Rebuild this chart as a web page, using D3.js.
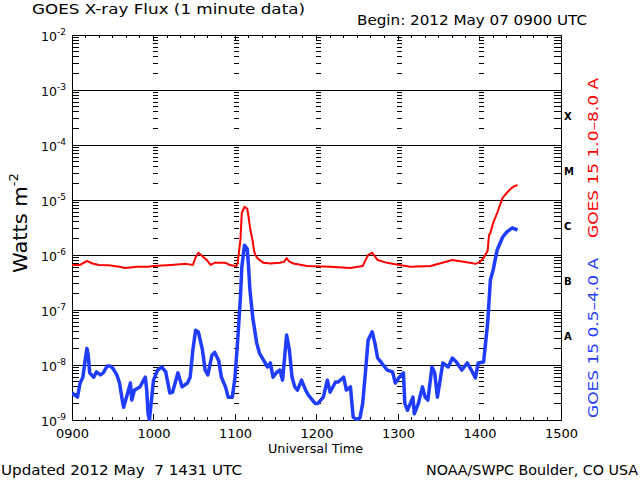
<!DOCTYPE html>
<html lang="en">
<head>
<meta charset="UTF-8">
<title>GOES X-ray Flux (1 minute data)</title>
<script src="https://d3js.org/d3.v7.min.js"></script>
<style>
    body { margin: 0; background: #fff; }
    text { font-family: "DejaVu Sans", Arial, sans-serif; fill: #000; }
    .pre { white-space: pre; }
</style>
</head>
<body>
<div id="chart"></div>
<script>
    // GOES 15 long channel (1.0-8.0 A), W m^-2
    const longChannel = [
        ["0900", 6.6e-7], ["0906", 6.6e-7], ["0911", 7.8e-7], ["0915", 7.0e-7], ["0920", 6.6e-7],
        ["0927", 6.5e-7], ["0935", 6.1e-7], ["0939", 5.8e-7], ["0948", 6.1e-7], ["0956", 6.1e-7],
        ["1000", 6.3e-7], ["1013", 6.6e-7], ["1024", 6.9e-7], ["1029", 6.6e-7], ["1031", 9.0e-7],
        ["1033", 1.1e-6], ["1036", 9.5e-7], ["1039", 8.2e-7], ["1042", 6.6e-7], ["1045", 7.2e-7],
        ["1053", 7.2e-7], ["1056", 6.6e-7], ["1101", 6.3e-7], ["1102", 7.2e-7], ["1104", 1.9e-6],
        ["1105", 5.8e-6], ["1107", 7.5e-6], ["1109", 7.0e-6], ["1110", 4.9e-6], ["1111", 3.2e-6],
        ["1113", 1.8e-6], ["1114", 1.2e-6], ["1115", 1.0e-6], ["1117", 8.5e-7], ["1121", 7.2e-7],
        ["1126", 7.0e-7], ["1133", 7.2e-7], ["1136", 7.5e-7], ["1138", 8.8e-7], ["1140", 7.6e-7],
        ["1143", 7.0e-7], ["1153", 6.3e-7], ["1210", 6.1e-7], ["1225", 5.8e-7], ["1234", 6.3e-7],
        ["1236", 8.0e-7], ["1238", 1.0e-6], ["1241", 1.1e-6], ["1245", 8.1e-7], ["1252", 7.2e-7],
        ["1301", 6.6e-7], ["1309", 6.1e-7], ["1324", 6.3e-7], ["1340", 8.1e-7], ["1353", 7.2e-7],
        ["1357", 6.9e-7], ["1400", 7.4e-7], ["1403", 8.8e-7], ["1406", 1.2e-6], ["1407", 2.3e-6],
        ["1408", 2.5e-6], ["1410", 3.8e-6], ["1413", 5.8e-6], ["1417", 1.09e-5], ["1422", 1.52e-5],
        ["1425", 1.75e-5], ["1428", 1.87e-5]
    ];

    // GOES 15 short channel (0.5-4.0 A), W m^-2
    const shortChannel = [
        ["0900", 3.1e-9], ["0904", 2.6e-9], ["0906", 4.7e-9], ["0908", 6.0e-9], ["0910", 1.4e-8],
        ["0911", 2.0e-8], ["0912", 1.5e-8], ["0913", 7.2e-9], ["0916", 6.0e-9], ["0918", 7.5e-9],
        ["0921", 6.6e-9], ["0923", 7.2e-9], ["0926", 9.6e-9], ["0928", 9.6e-9], ["0930", 8.8e-9],
        ["0933", 6.6e-9], ["0935", 4.7e-9], ["0937", 2.3e-9], ["0938", 1.7e-9], ["0941", 3.1e-9],
        ["0943", 4.7e-9], ["0944", 2.3e-9], ["0946", 3.5e-9], ["0950", 4.0e-9], ["0954", 6.0e-9],
        ["0955", 3.5e-9], ["0956", 1.3e-9], ["0957", 1.0e-9], ["1000", 5.3e-9], ["1003", 8.1e-9],
        ["1006", 9.2e-9], ["1009", 7.5e-9], ["1012", 3.1e-9], ["1014", 3.2e-9], ["1018", 7.2e-9],
        ["1021", 4.0e-9], ["1025", 4.7e-9], ["1027", 6.0e-9], ["1029", 1.9e-8], ["1031", 4.3e-8],
        ["1033", 4.0e-8], ["1036", 1.9e-8], ["1038", 8.1e-9], ["1040", 6.6e-9], ["1043", 1.5e-8],
        ["1045", 1.7e-8], ["1048", 1.2e-8], ["1050", 6.0e-9], ["1053", 4.0e-9], ["1055", 2.6e-9],
        ["1058", 2.6e-9], ["1100", 6.0e-9], ["1102", 2.85e-8], ["1104", 1.7e-7], ["1105", 6.0e-7],
        ["1107", 1.5e-6], ["1109", 1.3e-6], ["1110", 6.0e-7], ["1111", 2.3e-7], ["1113", 7.5e-8],
        ["1116", 2.5e-8], ["1118", 1.65e-8], ["1121", 1.23e-8], ["1124", 9.2e-9], ["1126", 1.09e-8],
        ["1128", 6.0e-9], ["1131", 7.5e-9], ["1133", 8.1e-9], ["1135", 5.3e-9], ["1138", 3.5e-8],
        ["1140", 1.9e-8], ["1142", 6.0e-9], ["1144", 4.0e-9], ["1146", 3.5e-9], ["1149", 5.3e-9],
        ["1152", 3.5e-9], ["1154", 2.85e-9], ["1157", 2.3e-9], ["1159", 2.0e-9], ["1201", 2.0e-9],
        ["1205", 2.6e-9], ["1208", 5.3e-9], ["1210", 3.2e-9], ["1214", 4.9e-9], ["1216", 4.9e-9],
        ["1220", 6.0e-9], ["1222", 3.5e-9], ["1225", 4.0e-9], ["1227", 1.13e-9], ["1230", 1.0e-9],
        ["1232", 1.09e-9], ["1234", 2.0e-9], ["1236", 7.2e-9], ["1238", 2.85e-8], ["1241", 4.0e-8],
        ["1243", 2.5e-8], ["1245", 1.34e-8], ["1248", 1.09e-8], ["1252", 8.1e-9], ["1256", 7.5e-9],
        ["1258", 4.7e-9], ["1301", 6.0e-9], ["1304", 7.2e-9], ["1305", 2.0e-9], ["1307", 1.5e-9],
        ["1311", 2.6e-9], ["1312", 1.3e-9], ["1315", 2.0e-9], ["1318", 4.0e-9], ["1320", 2.6e-9],
        ["1322", 2.3e-9], ["1325", 9.2e-9], ["1327", 7.2e-9], ["1329", 2.6e-9], ["1331", 5.3e-9],
        ["1333", 1.09e-8], ["1337", 9.2e-9], ["1340", 1.34e-8], ["1343", 1.13e-8], ["1347", 8.1e-9],
        ["1351", 1.09e-8], ["1354", 8.1e-9], ["1357", 5.8e-9], ["1359", 1.09e-8], ["1403", 1.13e-8],
        ["1406", 5.8e-8], ["1408", 3.5e-7], ["1410", 5.3e-7], ["1413", 1.23e-6], ["1417", 2.1e-6],
        ["1420", 2.6e-6], ["1424", 3.1e-6], ["1428", 2.85e-6]
    ];

    const decades = [-2, -3, -4, -5, -6, -7, -8, -9];
    const hourLabels = ["0900", "1000", "1100", "1200", "1300", "1400", "1500"];
    const flareClasses = [["X", -3.5], ["M", -4.5], ["C", -5.5], ["B", -6.5], ["A", -7.5]];

    const red = "#ff0000";
    const blue = "#1f3cff";

    const plot = { left: 72, right: 561, top: 35, bottom: 420 };

    const svg = d3.select("#chart").append("svg")
        .attr("width", 640)
        .attr("height", 480);

    const parseTime = d3.utcParse("%H%M");
    const x = d3.scaleUtc()
        .domain([parseTime(hourLabels[0]), parseTime(hourLabels[hourLabels.length - 1])])
        .range([plot.left, plot.right]);
    const y = d3.scaleLog()
        .domain([1e-9, 1e-2])
        .range([plot.bottom, plot.top]);

    // minor log positions 2..9 x 10^k
    const minorValues = [];
    for (let k = -9; k < -2; k++) {
        for (let m = 2; m <= 9; m++) minorValues.push(m * Math.pow(10, k));
    }

    const grid = svg.append("g").attr("stroke", "#000").attr("shape-rendering", "crispEdges");

    // horizontal decade lines
    grid.selectAll("line.decade")
        .data(decades.map(e => Math.pow(10, e)))
        .enter().append("line")
        .attr("class", "decade")
        .attr("x1", plot.left).attr("x2", plot.right)
        .attr("y1", d => y(d)).attr("y2", d => y(d))
        .attr("stroke-width", 1);

    // left and right axis minor ticks
    grid.selectAll("line.lminor")
        .data(minorValues)
        .enter().append("line")
        .attr("x1", plot.left).attr("x2", plot.left + 7)
        .attr("y1", d => y(d)).attr("y2", d => y(d));
    grid.selectAll("line.rminor")
        .data(minorValues)
        .enter().append("line")
        .attr("x1", plot.right - 7).attr("x2", plot.right)
        .attr("y1", d => y(d)).attr("y2", d => y(d));

    // hour lines drawn as short dashes at each log tick
    const innerHours = hourLabels.slice(1, -1).map(parseTime);
    innerHours.forEach(h => {
        grid.append("g").selectAll("line")
            .data(minorValues)
            .enter().append("line")
            .attr("x1", x(h) - 1).attr("x2", x(h) + 4)
            .attr("y1", d => y(d)).attr("y2", d => y(d));
        grid.append("line")
            .attr("x1", x(h)).attr("x2", x(h))
            .attr("y1", plot.top).attr("y2", plot.top + 6);
        grid.append("line")
            .attr("x1", x(h)).attr("x2", x(h))
            .attr("y1", plot.bottom - 6).attr("y2", plot.bottom);
    });

    // 10 minute ticks on top and bottom
    const tenMin = d3.utcMinute.every(10).range(x.domain()[0], x.domain()[1]);
    grid.selectAll("line.ttop")
        .data(tenMin)
        .enter().append("line")
        .attr("x1", d => x(d)).attr("x2", d => x(d))
        .attr("y1", plot.top).attr("y2", plot.top + 3);
    grid.selectAll("line.tbot")
        .data(tenMin)
        .enter().append("line")
        .attr("x1", d => x(d)).attr("x2", d => x(d))
        .attr("y1", plot.bottom - 3).attr("y2", plot.bottom);

    // frame
    grid.append("rect")
        .attr("x", plot.left).attr("y", plot.top)
        .attr("width", plot.right - plot.left)
        .attr("height", plot.bottom - plot.top)
        .attr("fill", "none");

    // x axis labels
    const xAxis = d3.axisBottom(x)
        .tickValues(hourLabels.map(parseTime))
        .tickFormat(d3.utcFormat("%H%M"))
        .tickSize(0)
        .tickPadding(0);
    const xg = svg.append("g")
        .attr("transform", `translate(0,${plot.bottom})`)
        .call(xAxis);
    xg.select(".domain").remove();
    xg.selectAll("text")
        .attr("dy", null)
        .attr("y", 18)
        .attr("font-size", 13)
        .attr("font-family", "DejaVu Sans, sans-serif")
        .attr("fill", "#000");

    // y axis labels 10^n
    const yAxis = d3.axisLeft(y)
        .tickValues(decades.map(e => Math.pow(10, e)))
        .tickFormat("")
        .tickSize(0)
        .tickPadding(0);
    const yg = svg.append("g")
        .attr("transform", `translate(${plot.left - 6},0)`)
        .call(yAxis);
    yg.select(".domain").remove();
    yg.selectAll(".tick text")
        .attr("dy", null)
        .attr("y", 5)
        .attr("font-size", 12.5)
        .attr("font-family", "DejaVu Sans, sans-serif")
        .attr("fill", "#000")
        .each(function(d) {
            const t = d3.select(this);
            t.append("tspan").text("10");
            t.append("tspan")
                .attr("dy", -6)
                .attr("font-size", 9)
                .text("-" + Math.round(-Math.log10(d)));
        });

    // flux curves
    const line = d3.line()
        .x(d => x(parseTime(d[0])))
        .y(d => y(d[1]));

    svg.append("defs").append("clipPath").attr("id", "clip")
        .append("rect")
        .attr("x", plot.left).attr("y", plot.top)
        .attr("width", plot.right - plot.left)
        .attr("height", plot.bottom - plot.top + 1);

    svg.append("path")
        .datum(shortChannel)
        .attr("clip-path", "url(#clip)")
        .attr("fill", "none")
        .attr("stroke", blue)
        .attr("stroke-width", 3.5)
        .attr("stroke-linejoin", "round")
        .attr("d", line);

    svg.append("path")
        .datum(longChannel)
        .attr("clip-path", "url(#clip)")
        .attr("fill", "none")
        .attr("stroke", red)
        .attr("stroke-width", 2)
        .attr("stroke-linejoin", "round")
        .attr("d", line);

    // flare class letters
    svg.append("g").selectAll("text")
        .data(flareClasses)
        .enter().append("text")
        .attr("x", plot.right + 3)
        .attr("y", d => y(Math.pow(10, d[1])) + 2)
        .attr("font-family", "DejaVu Serif, serif")
        .attr("font-weight", "bold")
        .attr("font-size", 10)
        .text(d => d[0]);

    // titles
    svg.append("text")
        .attr("x", 32).attr("y", 14)
        .attr("font-size", 14)
        .attr("textLength", 273).attr("lengthAdjust", "spacingAndGlyphs")
        .text("GOES X-ray Flux (1 minute data)");

    svg.append("text")
        .attr("x", 357).attr("y", 25)
        .attr("font-size", 14)
        .attr("textLength", 230).attr("lengthAdjust", "spacingAndGlyphs")
        .text("Begin: 2012 May 07 0900 UTC");

    svg.append("text")
        .attr("x", 268).attr("y", 453)
        .attr("font-size", 13)
        .attr("textLength", 95).attr("lengthAdjust", "spacingAndGlyphs")
        .text("Universal Time");

    const wl = svg.append("text")
        .attr("transform", "translate(27,273) rotate(-90)")
        .attr("font-size", 19)
        .attr("textLength", 100).attr("lengthAdjust", "spacingAndGlyphs");
    wl.append("tspan").text("Watts m");
    wl.append("tspan").attr("dy", -9).attr("font-size", 12).text("-2");

    svg.append("text")
        .attr("transform", "translate(598,238) rotate(-90)")
        .attr("font-size", 14)
        .attr("fill", red)
        .style("fill", red)
        .attr("textLength", 160).attr("lengthAdjust", "spacingAndGlyphs")
        .text("GOES 15 1.0–8.0 A");

    svg.append("text")
        .attr("transform", "translate(598,418) rotate(-90)")
        .attr("font-size", 14)
        .style("fill", blue)
        .attr("textLength", 160).attr("lengthAdjust", "spacingAndGlyphs")
        .text("GOES 15 0.5–4.0 A");

    svg.append("text")
        .attr("class", "pre")
        .attr("x", 1).attr("y", 475)
        .attr("font-size", 14)
        .attr("textLength", 241).attr("lengthAdjust", "spacingAndGlyphs")
        .text("Updated 2012 May  7 1431 UTC");

    svg.append("text")
        .attr("x", 426).attr("y", 475)
        .attr("font-size", 14)
        .attr("textLength", 212).attr("lengthAdjust", "spacingAndGlyphs")
        .text("NOAA/SWPC Boulder, CO USA");
</script>
</body>
</html>
